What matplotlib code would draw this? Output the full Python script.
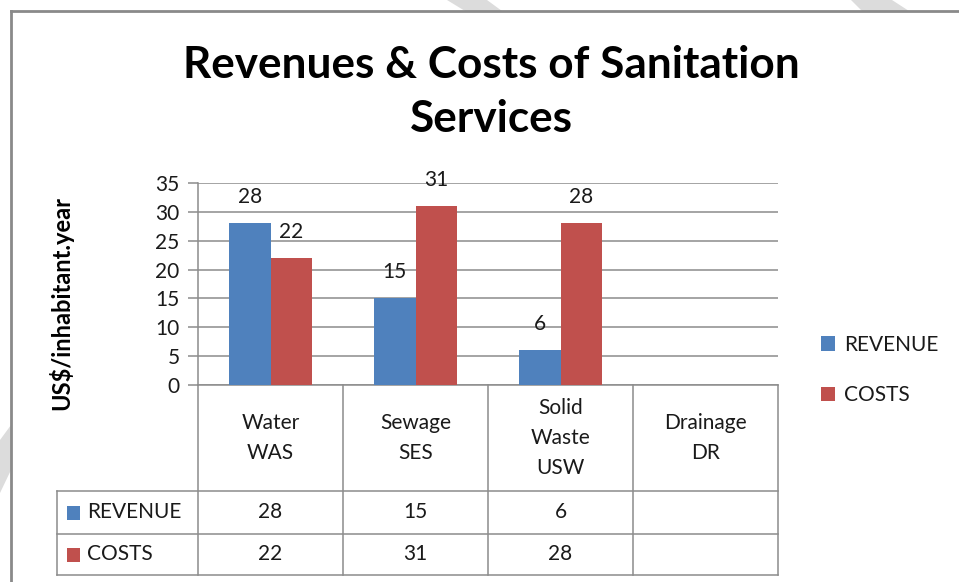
import numpy as np
import matplotlib
matplotlib.use("Agg")
import matplotlib.pyplot as plt
from matplotlib.patches import Polygon, Rectangle
from matplotlib.lines import Line2D
import matplotlib.transforms as mtransforms

plt.rcParams['font.family'] = ['Lato', 'DejaVu Sans']

# ---- data ----
categories = ["Water\nWAS", "Sewage\nSES", "Solid\nWaste\nUSW", "Drainage\nDR"]
series_names = ["REVENUE", "COSTS"]
revenue = [28, 15, 6, np.nan]
costs = [22, 31, 28, np.nan]
y_ticks = [0, 5, 10, 15, 20, 25, 30, 35]
title = "Revenues & Costs of Sanitation\nServices"
ylabel = "US$/inhabitant.year"

BLUE = "#4F81BD"
RED = "#C0504D"
GRID = "#8C8C8C"
TXT = "#1a1a1a"
FS = 15

W, H = 959, 582
fig = plt.figure(figsize=(W / 100, H / 100), dpi=100)
fig.patch.set_facecolor("white")

def fx(px):
    return px / W
def fy(py):
    return 1 - py / H

# background stripes (outside chart frame)
stripe_color = "#DCDCDC"
for pts in [
    [(447, 0), (487, 0), (502, 11), (465, 11)],
    [(851, 0), (892, 0), (909, 11), (862, 11)],
    [(0, 440), (11, 425), (11, 470), (0, 493)],
]:
    fig.patches.append(Polygon([(fx(x), fy(y)) for x, y in pts], closed=True,
                               transform=fig.transFigure, facecolor=stripe_color,
                               edgecolor="none", zorder=0))
fig.patches.append(Rectangle((fx(11), 0), 1 - fx(11), fy(11), transform=fig.transFigure,
                             facecolor="white", edgecolor="none", zorder=0.5))
fig.lines.append(Line2D([fx(11), 1], [fy(11), fy(11)], transform=fig.transFigure,
                        color="#8A8A8A", lw=2, zorder=1))
fig.lines.append(Line2D([fx(11), fx(11)], [fy(11), 0], transform=fig.transFigure,
                        color="#8A8A8A", lw=2, zorder=1))

# plot area
x0, x1, ytop, ybot = 198, 778, 183, 385
ax = fig.add_axes([fx(x0), fy(ybot), fx(x1) - fx(x0), (ybot - ytop) / H])
ax.set_zorder(3)
ax.set_facecolor("none")
n = len(categories)
x = np.arange(n)
bw = 0.286
ax.bar(x - bw / 2, revenue, width=bw, color=BLUE, zorder=3, label=series_names[0])
ax.bar(x + bw / 2, costs, width=bw, color=RED, zorder=3, label=series_names[1])
ax.set_xlim(-0.5, n - 0.5)
ax.set_ylim(0, 35)
ax.set_yticks(y_ticks)
ax.set_yticklabels([str(t) for t in y_ticks], fontsize=FS, color=TXT)
ax.set_xticks([])
ax.yaxis.grid(True, color=GRID, lw=1.1, zorder=0)
ax.tick_params(axis="y", length=10 * 0.72, width=1.1, color=GRID, pad=6)
for s in ["top", "right"]:
    ax.spines[s].set_visible(False)
for s in ["left", "bottom"]:
    ax.spines[s].set_color(GRID)
    ax.spines[s].set_linewidth(1.1)

# data labels
for xi, v in zip(x, revenue):
    if not np.isnan(v):
        ax.annotate(f"{v:g}", (xi - bw / 2, v), xytext=(0, 19), textcoords="offset points",
                    ha="center", va="center", fontsize=FS, color=TXT, zorder=4)
for xi, v in zip(x, costs):
    if not np.isnan(v):
        ax.annotate(f"{v:g}", (xi + bw / 2, v), xytext=(0, 19), textcoords="offset points",
                    ha="center", va="center", fontsize=FS, color=TXT, zorder=4)

ax.set_ylabel(ylabel, fontsize=17, fontweight="bold", color="black")
ax.yaxis.set_label_coords((73 - x0) / (x1 - x0), (ybot - 303) / (ybot - ytop))

# data table drawn below axes
trans = mtransforms.blended_transform_factory(ax.transData, ax.transAxes)
def ya(py):
    return (ybot - py) / (ybot - ytop)
def xd(px):
    return -0.5 + (px - x0) / ((x1 - x0) / n)

row_h = [385, 491, 534, 575]
left_px = 57
lkw = dict(color=GRID, lw=1.1, clip_on=False, transform=trans, zorder=2)
ax.plot([xd(x0), xd(x0)], [ya(ybot), ya(row_h[-1])], **lkw)
for i in range(1, n + 1):
    ax.plot([i - 0.5, i - 0.5], [ya(ybot), ya(row_h[-1])], **lkw)
ax.plot([xd(left_px), xd(left_px)], [ya(row_h[1]), ya(row_h[-1])], **lkw)
for py in row_h[1:]:
    ax.plot([xd(left_px), n - 0.5], [ya(py), ya(py)], **lkw)

# header labels
for xi, lab in zip(x, categories):
    ax.text(xi, ya((row_h[0] + row_h[1]) / 2), lab, transform=trans, ha="center",
            va="center", fontsize=FS, color=TXT, linespacing=1.6)

# rows
hpx = ybot - ytop
for r, (name, vals, col) in enumerate(zip(series_names, [revenue, costs], [BLUE, RED])):
    cy = ya((row_h[r + 1] + row_h[r + 2]) / 2)
    for xi, v in zip(x, vals):
        if not np.isnan(v):
            ax.text(xi, cy, f"{v:g}", transform=trans, ha="center", va="center",
                    fontsize=FS, color=TXT)
    ax.add_patch(Rectangle((xd(67), cy - 7 / hpx), xd(80) - xd(67), 14 / hpx,
                           transform=trans, facecolor=col, edgecolor="none", clip_on=False))
    ax.text(xd(87), cy, name, transform=trans, ha="left", va="center", fontsize=FS, color=TXT)

# legend
handles, labels = ax.get_legend_handles_labels()
leg = fig.legend(handles, labels, loc="center left", bbox_to_anchor=(fx(802), fy(370)),
                 frameon=False, fontsize=FS, handlelength=0.7, handleheight=0.7,
                 handletextpad=0.4, labelspacing=1.45)
for t in leg.get_texts():
    t.set_color(TXT)

# title
ttl = fig.text(fx(491), fy(92), title, ha="center", va="center", fontsize=26,
               fontweight="bold", color="black", linespacing=1.45)

fig.canvas.draw()
r = fig.canvas.get_renderer()
bb = ttl.get_window_extent(r)
ttl.set_fontsize(26 * 616 / bb.width)

fig.savefig("out.png", dpi=100)
